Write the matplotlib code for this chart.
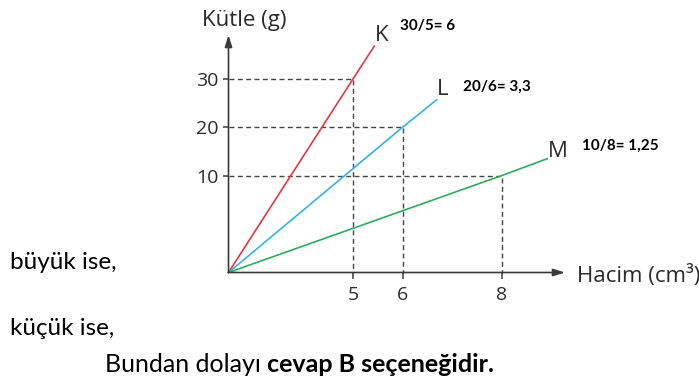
import numpy as np
import matplotlib
matplotlib.use("Agg")
import matplotlib.pyplot as plt

# veriler
k_x = [0, 5, 5.43]
k_y = [0, 30, 36.8]
l_x = [0, 6, 6.69]
l_y = [0, 20, 25.7]
m_x = [0, 8, 8.92]
m_y = [0, 10, 13.5]

guide_x = [5, 6, 8]
guide_y = [30, 20, 10]

x_ticks = [5, 6, 8]
y_ticks = [10, 20, 30]

line_labels = ["K", "L", "M"]
ratio_labels = ["30/5= 6", "20/6= 3,3", "10/8= 1,25"]

W, H = 699, 383
fig = plt.figure(figsize=(W / 100, H / 100), dpi=100)
fig.patch.set_facecolor("white")


def px(x, y):
    return x / W, 1 - y / H


# şematik eksenler: parça parça doğrusal ölçek
def fx(x):
    x = np.asarray(x, dtype=float)
    return np.where(x <= 5, x * 24.88, 124.4 + (x - 5) * 49.5)


def fx_inv(v):
    v = np.asarray(v, dtype=float)
    return np.where(v <= 124.4, v / 24.88, 5 + (v - 124.4) / 49.5)


def fy(y):
    y = np.asarray(y, dtype=float)
    return np.where(y <= 10, y * 9.68, 96.8 + (y - 10) * 4.83)


def fy_inv(v):
    v = np.asarray(v, dtype=float)
    return np.where(v <= 96.8, v / 9.68, 10 + (v - 96.8) / 4.83)


x0, y0 = 228.5, 272.5
x1, y1 = 565, 35
ax = fig.add_axes([x0 / W, 1 - y0 / H, (x1 - x0) / W, (y0 - y1) / H])
ax.set_xscale("function", functions=(fx, fx_inv))
ax.set_yscale("function", functions=(fy, fy_inv))
ax.set_xlim(0, 9.28)
ax.set_ylim(0, 39.1)
ax.patch.set_alpha(0)
for s in ax.spines.values():
    s.set_visible(False)

axis_col = "#3a3a3a"
dash = (0, (3.6, 2.4))

# kesikli yardımcı çizgiler
for gx, gy in zip(guide_x, guide_y):
    ax.plot([0, gx, gx], [gy, gy, 0], color="#444444", lw=1.0,
            linestyle=dash, clip_on=False)

ax.plot(k_x, k_y, color="#ec3340", lw=1.2, clip_on=False)
ax.plot(l_x, l_y, color="#35b1e6", lw=1.2, clip_on=False)
ax.plot(m_x, m_y, color="#2eaa5c", lw=1.2, clip_on=False)

# oklu eksenler
arrow = dict(arrowstyle="-|>,head_length=0.7,head_width=0.22",
             color=axis_col, lw=1.2, shrinkA=0, shrinkB=0)
ax.annotate("", xy=(1, 0), xytext=(0, 0), xycoords="axes fraction",
            arrowprops=arrow)
ax.annotate("", xy=(0, 1), xytext=(0, 0), xycoords="axes fraction",
            arrowprops=arrow)

ax.set_xticks(x_ticks)
ax.set_xticklabels([str(t) for t in x_ticks])
ax.set_yticks(y_ticks)
ax.set_yticklabels([str(t) for t in y_ticks])
ax.minorticks_off()
ax.tick_params(axis="both", direction="out", length=4, width=1.1,
               color=axis_col, labelcolor="#2a2a2a", labelsize=14)
ax.tick_params(axis="x", pad=6)
ax.tick_params(axis="y", pad=3)
for lab in ax.get_xticklabels() + ax.get_yticklabels():
    lab.set_fontfamily("Open Sans")

txt_col = "#2a2a2a"
chart_font = "Open Sans"
fig.text(*px(202, 26), "Kütle (g)", fontsize=16, family=chart_font,
         color=txt_col, va="baseline", ha="left")
fig.text(*px(577, 282), "Hacim (cm³)", fontsize=16, family=chart_font,
         color=txt_col, va="baseline", ha="left")

label_pos = [(375, 41), (437, 95), (548, 157)]
ratio_pos = [(400, 30), (463, 91), (582, 150)]
for name, (lx, ly) in zip(line_labels, label_pos):
    fig.text(*px(lx, ly), name, fontsize=16, family=chart_font,
             color=txt_col, va="baseline", ha="left")
for r, (rx, ry) in zip(ratio_labels, ratio_pos):
    fig.text(*px(rx, ry), r, fontsize=11, family="Lato", weight="bold",
             color="black", va="baseline", ha="left")

# alt metinler
fig.text(*px(10, 269), "büyük ise,", fontsize=17.5, family="Lato",
         color="black", va="baseline", ha="left")
fig.text(*px(10, 335), "küçük ise,", fontsize=17.5, family="Lato",
         color="black", va="baseline", ha="left")
reg = fig.text(*px(105, 372), "Bundan dolayı", fontsize=18, family="Lato",
               color="black", va="baseline", ha="left")
renderer = fig.canvas.get_renderer()
end_x = reg.get_window_extent(renderer).x1
fig.text(*px(end_x + 6, 372), "cevap B seçeneğidir.", fontsize=18,
         family="Lato", weight="bold", color="black", va="baseline",
         ha="left")

fig.savefig("out.png", dpi=100)
